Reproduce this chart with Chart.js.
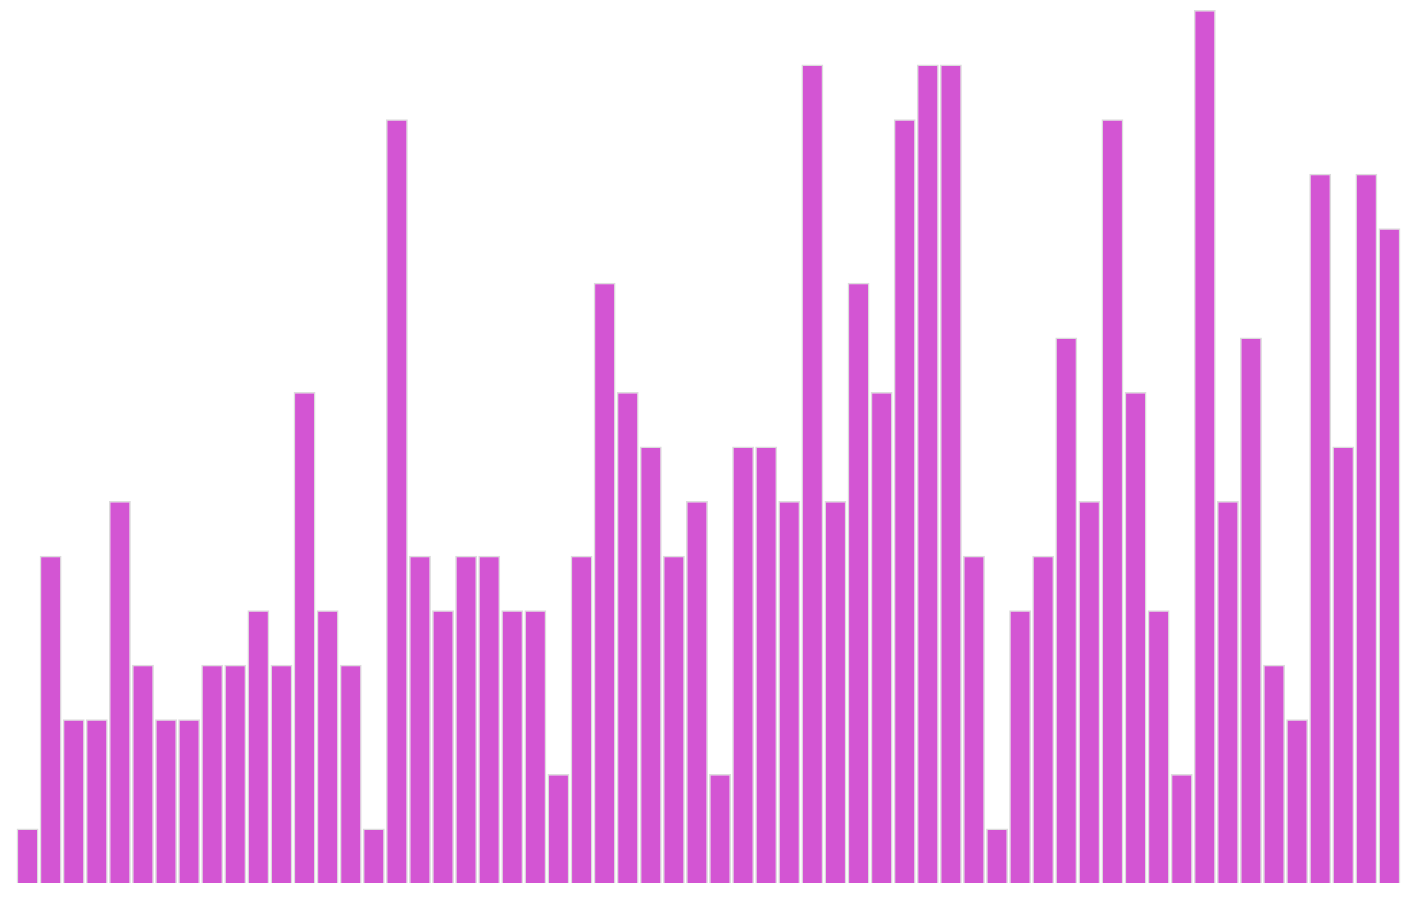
<!DOCTYPE html>
<html>
<head>
<meta charset="utf-8">
<script src="https://cdn.jsdelivr.net/npm/chart.js@4"></script>
<style>
    html, body { margin: 0; padding: 0; background: #fff; }
    #wrap { width: 1417px; height: 901px; }
</style>
</head>
<body>
<div id="wrap"><canvas id="barChart"></canvas></div>
<script>
// Valores (60 barras)
const valores = [
    1, 6, 3, 3, 7, 4, 3, 3, 4, 4,
    5, 4, 9, 5, 4, 1, 14, 6, 5, 6,
    6, 5, 5, 2, 6, 11, 9, 8, 6, 7,
    2, 8, 8, 7, 15, 7, 11, 9, 14, 15,
    15, 6, 1, 5, 6, 10, 7, 14, 9, 5,
    2, 16, 7, 10, 4, 3, 13, 8, 13, 12
];
const categorias = valores.map((_, i) => String(i + 1));

const corBarra = '#d355d3';
const corBorda = '#dcdcdc';

new Chart(document.getElementById('barChart'), {
    type: 'bar',
    data: {
        labels: categorias,
        datasets: [{
            data: valores,
            backgroundColor: corBarra,
            borderColor: corBorda,
            borderWidth: 1.5,
            categoryPercentage: 1.0,
            barPercentage: 0.95
        }]
    },
    options: {
        responsive: true,
        maintainAspectRatio: false,
        animation: false,
        layout: { padding: { left: 16, right: 16, top: 10, bottom: 18 } },
        plugins: {
            legend: { display: false },
            tooltip: { enabled: false }
        },
        scales: {
            x: { display: false },
            y: { display: false, min: 0, max: 16 }
        }
    }
});
</script>
</body>
</html>
